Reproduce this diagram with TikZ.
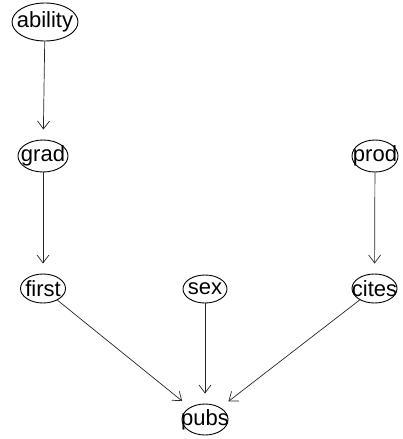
\documentclass[tikz,border=0pt]{standalone}
\usepackage{fontspec}
\setmainfont{Liberation Sans}
\usetikzlibrary{shapes.geometric,arrows.meta}
\begin{document}
\begin{tikzpicture}[x=1pt,y={(0pt,-1pt)},
  nd/.style={ellipse,draw,line width=0.9pt,inner sep=0pt},
  txt/.style={font=\fontsize{22}{22}\selectfont,inner sep=0pt},
  edge/.style={draw=black!85,line width=0.7pt,-{Straight Barb[length=8pt,width=12pt]},shorten >=10pt}]
\useasboundingbox (0,0) rectangle (402,439);
\node[nd,minimum width=66pt,minimum height=38pt,label={[txt]center:ability}] (ability) at (45,22) {};
\node[nd,minimum width=50pt,minimum height=32pt,label={[txt]center:grad}] (grad) at (43,156) {};
\node[nd,minimum width=46pt,minimum height=32pt,label={[txt]center:prod}] (prod) at (375,156) {};
\node[nd,minimum width=45pt,minimum height=29pt,label={[txt]center:first}] (first) at (43,288.5) {};
\node[nd,minimum width=44pt,minimum height=28pt,label={[txt]center:sex}] (sex) at (205,289) {};
\node[nd,minimum width=45pt,minimum height=29pt,label={[txt]center:cites}] (cites) at (374.5,288.5) {};
\node[nd,minimum width=46pt,minimum height=31pt,label={[txt]center:pubs}] (pubs) at (205,419.5) {};
\draw[edge] (ability) -- (grad);
\draw[edge] (grad) -- (first);
\draw[edge] (prod) -- (cites);
\draw[edge] (first) -- (pubs);
\draw[edge] (sex) -- (pubs);
\draw[edge] (cites) -- (pubs);
\end{tikzpicture}
\end{document}
